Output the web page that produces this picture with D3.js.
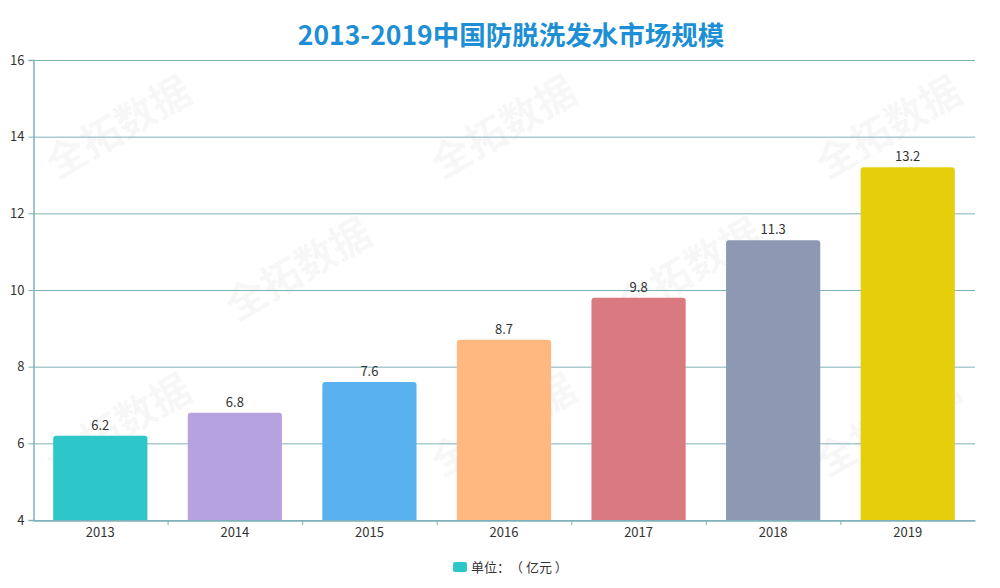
<!DOCTYPE html>
<html><head><meta charset="utf-8">
<script src="https://cdn.jsdelivr.net/npm/d3@7"></script>
<style>body{margin:0;background:#fff;}svg{display:block;} text{text-spacing-trim:space-all;}</style>
</head><body>
<svg id="c" width="1000" height="588"></svg>
<script>
const categories = ["2013","2014","2015","2016","2017","2018","2019"];
const values = [6.2, 6.8, 7.6, 8.7, 9.8, 11.3, 13.2];
const colors = ["#2ec7c9","#b6a2de","#5ab1ef","#ffb980","#d87a80","#8d98b3","#e5cf0d"];
const yTicks = [4,6,8,10,12,14,16];
const title = "2013-2019中国防脱洗发水市场规模";
const legendLabel = "单位：（ 亿元 ）";
const watermark = "全拓数据";

const svg = d3.select("#c");
const font = "'Noto Sans CJK SC','Open Sans',sans-serif";
const m = {l:33, r:975, t:60, b:520};
const x = d3.scaleBand().domain(categories).range([m.l, m.r]).paddingInner(0.3).paddingOuter(0.15);
const xb = d3.scaleBand().domain(categories).range([m.l, m.r]);
const y = d3.scaleLinear().domain([4,16]).range([m.b, m.t]);
const axisColor = "#7fb2b8";

// watermarks
const wm = [[120,130],[505,130],[890,130],[300,272],[690,272],[120,428],[505,428],[890,428]];
svg.append("g").selectAll("text").data(wm).join("text")
  .attr("transform", d => `translate(${d[0]},${d[1]}) rotate(-30)`)
  .attr("text-anchor","middle").attr("dominant-baseline","middle")
  .attr("font-family", font).attr("font-weight","bold").attr("font-size", 40)
  .attr("fill","#000").attr("fill-opacity",0.05).text(watermark);

// grid
svg.append("g").selectAll("line").data(yTicks).join("line")
  .attr("x1", m.l).attr("x2", m.r).attr("y1", d=>y(d)+0.5).attr("y2", d=>y(d)+0.5)
  .attr("stroke", axisColor).attr("stroke-width",1);

// y axis
const ya = svg.append("g").attr("transform",`translate(${m.l+0.5},0)`)
  .call(d3.axisLeft(y).tickValues(yTicks).tickSize(5).tickPadding(4));
ya.select(".domain").attr("stroke", axisColor).attr("stroke-width",1.5);
ya.selectAll(".tick line").attr("stroke", axisColor);
ya.selectAll("text").attr("font-family", font).attr("font-size",13).attr("fill","#333");

// bars
const r = 3;
function barPath(x0, y0, w, h){
  return `M${x0},${y0+h}V${y0+r}Q${x0},${y0} ${x0+r},${y0}H${x0+w-r}Q${x0+w},${y0} ${x0+w},${y0+r}V${y0+h}Z`;
}
svg.append("g").selectAll("path").data(categories).join("path")
  .attr("d", (d,i) => barPath(x(d), y(values[i]), x.bandwidth(), y(4)-y(values[i])))
  .attr("fill", (d,i)=>colors[i]);

svg.append("g").selectAll("text").data(categories).join("text")
  .attr("x", d => x(d)+x.bandwidth()/2).attr("y", (d,i)=>y(values[i])-6)
  .attr("text-anchor","middle").attr("font-family", font).attr("font-size",13).attr("fill","#333")
  .text((d,i)=>values[i]);

// x axis
const xa = svg.append("g").attr("transform",`translate(0,${m.b+0.5})`)
  .call(d3.axisBottom(xb).tickSize(0).tickPadding(7));
xa.select(".domain").attr("stroke", axisColor).attr("stroke-width",1.5);
xa.selectAll("text").attr("font-family", font).attr("font-size",13).attr("fill","#333");
svg.append("g").selectAll("line").data(categories.slice(1)).join("line")
  .attr("x1", d=>xb(d)+0.5).attr("x2", d=>xb(d)+0.5).attr("y1", m.b).attr("y2", m.b+5)
  .attr("stroke", axisColor);

// title
svg.append("text").attr("x",511).attr("y",45).attr("text-anchor","middle")
  .attr("font-family", font).attr("font-weight","bold").attr("font-size",26.5).attr("fill","#1e8fd4")
  .text(title);

// legend
svg.append("rect").attr("x",453).attr("y",562).attr("width",14).attr("height",10).attr("rx",2).attr("fill",colors[0]);
svg.append("text").attr("x",471).attr("y",571.5).attr("font-family", font).attr("font-size",13).attr("fill","#333").text(legendLabel);
</script>
</body></html>
